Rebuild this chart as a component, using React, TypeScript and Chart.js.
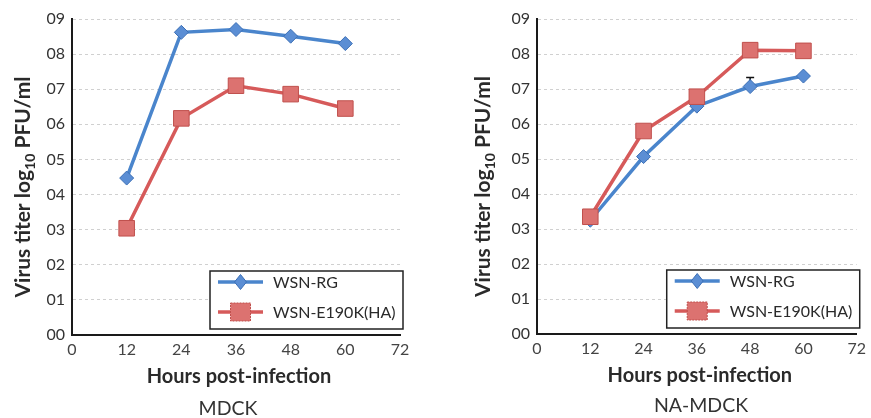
import { useEffect, useRef } from "react";
import { Chart, registerables } from "chart.js";

Chart.register(...registerables);

// ---------- data ----------
const hours = [12, 24, 36, 48, 60];
const seriesNames = ["WSN-RG", "WSN-E190K(HA)"];
const mdckRG = [4.47, 8.62, 8.7, 8.51, 8.3];
const mdckE190K = [3.04, 6.17, 7.1, 6.86, 6.45];
const naRG = [3.25, 5.07, 6.51, 7.07, 7.37];
const naE190K = [3.35, 5.8, 6.78, 8.11, 8.09];
const naRGErrUpper: (number | null)[] = [null, null, null, 7.33, null];
const mdckRGErrUpper: (number | null)[] = [null, null, null, null, null];
const panelTitles = ["MDCK", "NA-MDCK"];
const xTitle = "Hours post-infection";
const yTitleMain = "Virus titer log";
const yTitleSub = "10";
const yTitleEnd = " PFU/ml";
const xMin = 0;
const xMax = 72;
const xStep = 12;
const yMin = 0;
const yMax = 9;

// ---------- styles ----------
const FONT = "Lato, 'Noto Sans', sans-serif";
const BLUE_LINE = "#4a85cc";
const BLUE_FILL = "#5b8ed4";
const BLUE_EDGE = "#3b6fb6";
const RED_LINE = "#d65a5a";
const RED_FILL = "#dc7270";
const RED_EDGE = "#c0504d";

type PanelCfg = {
  title: string;
  rg: number[];
  e190k: number[];
  errUpper: (number | null)[];
  left: number;
  width: number;
  yAxisWidth: number;
  padRight: number;
  padTop: number;
  xAxisHeight: number;
  yTitleDx: number;
  titleX: number;
  titleY: number;
};

const panels: PanelCfg[] = [
  {
    title: panelTitles[0],
    rg: mdckRG,
    e190k: mdckE190K,
    errUpper: mdckRGErrUpper,
    left: 0,
    width: 436,
    yAxisWidth: 72,
    padRight: 36,
    padTop: 19,
    xAxisHeight: 83,
    yTitleDx: -42,
    titleX: 228,
    titleY: 415,
  },
  {
    title: panelTitles[1],
    rg: naRG,
    e190k: naE190K,
    errUpper: naRGErrUpper,
    left: 436,
    width: 435,
    yAxisWidth: 101,
    padRight: 7,
    padTop: 19,
    xAxisHeight: 84,
    yTitleDx: -47,
    titleX: 265,
    titleY: 412,
  },
];

function drawDiamond(ctx: CanvasRenderingContext2D, x: number, y: number, rx: number, ry: number) {
  ctx.beginPath();
  ctx.moveTo(x - rx, y);
  ctx.lineTo(x, y - ry);
  ctx.lineTo(x + rx, y);
  ctx.lineTo(x, y + ry);
  ctx.closePath();
  ctx.fillStyle = BLUE_FILL;
  ctx.fill();
  ctx.strokeStyle = BLUE_EDGE;
  ctx.lineWidth = 1;
  ctx.stroke();
}

function drawSquare(ctx: CanvasRenderingContext2D, x: number, y: number, w: number, h: number) {
  ctx.fillStyle = RED_FILL;
  ctx.fillRect(x - w / 2, y - h / 2, w, h);
  ctx.strokeStyle = RED_EDGE;
  ctx.lineWidth = 1;
  ctx.setLineDash([2, 1]);
  ctx.strokeRect(x - w / 2, y - h / 2, w, h);
  ctx.setLineDash([]);
}

function makeOverlay(p: PanelCfg) {
  return {
    id: "overlay",
    beforeDatasetsDraw(chart: any) {
      const ctx = chart.ctx as CanvasRenderingContext2D;
      const xs = chart.scales.x;
      const ys = chart.scales.y;
      ctx.save();
      ctx.strokeStyle = "#111";
      ctx.lineWidth = 1.5;
      p.errUpper.forEach((u, i) => {
        if (u == null) return;
        const px = xs.getPixelForValue(hours[i]);
        const y0 = ys.getPixelForValue(p.rg[i]);
        const y1 = ys.getPixelForValue(u);
        ctx.beginPath();
        ctx.moveTo(px, y0);
        ctx.lineTo(px, y1);
        ctx.moveTo(px - 4, y1);
        ctx.lineTo(px + 4, y1);
        ctx.stroke();
      });
      ctx.restore();
    },
    afterDraw(chart: any) {
      const ctx = chart.ctx as CanvasRenderingContext2D;
      const a = chart.chartArea;
      ctx.save();
      // y-axis title with subscript
      ctx.translate(a.left + p.yTitleDx, (a.top + a.bottom) / 2 + 10);
      ctx.rotate(-Math.PI / 2);
      ctx.fillStyle = "#2a2a2a";
      ctx.textBaseline = "alphabetic";
      ctx.textAlign = "left";
      const big = `bold 21px ${FONT}`;
      const small = `bold 14px ${FONT}`;
      ctx.font = big;
      const w1 = ctx.measureText(yTitleMain).width;
      const w3 = ctx.measureText(yTitleEnd).width;
      ctx.font = small;
      const w2 = ctx.measureText(yTitleSub).width;
      const x0 = -(w1 + w2 + w3) / 2;
      ctx.font = big;
      ctx.fillText(yTitleMain, x0, 0);
      ctx.font = small;
      ctx.fillText(yTitleSub, x0 + w1, 5);
      ctx.font = big;
      ctx.fillText(yTitleEnd, x0 + w1 + w2, 0);
      ctx.restore();

      ctx.save();
      // x-axis title
      ctx.fillStyle = "#2a2a2a";
      ctx.textAlign = "center";
      ctx.textBaseline = "alphabetic";
      ctx.font = `bold 20px ${FONT}`;
      ctx.fillText(xTitle, (a.left + a.right) / 2 + 3, a.bottom + 48);
      // panel title
      ctx.font = `19.5px ${FONT}`;
      ctx.fillStyle = "#333";
      ctx.fillText(p.title, p.titleX, p.titleY);

      // legend
      const bw = 193;
      const bh = 58;
      const bx = a.right + 3 - bw;
      const by = a.bottom - 6 - bh;
      ctx.fillStyle = "#fff";
      ctx.fillRect(bx, by, bw, bh);
      ctx.strokeStyle = "#222";
      ctx.lineWidth = 1.5;
      ctx.strokeRect(bx, by, bw, bh);
      seriesNames.forEach((name, i) => {
        const cy = by + 11 + i * 30;
        const lx0 = bx + 8;
        const lx1 = bx + 53;
        ctx.strokeStyle = i === 0 ? BLUE_LINE : RED_LINE;
        ctx.lineWidth = 3.5;
        ctx.beginPath();
        ctx.moveTo(lx0, cy);
        ctx.lineTo(lx1, cy);
        ctx.stroke();
        const mx = (lx0 + lx1) / 2;
        if (i === 0) drawDiamond(ctx, mx, cy, 6, 7.5);
        else drawSquare(ctx, mx, cy, 20, 18);
        ctx.fillStyle = "#2a2a2a";
        ctx.font = `16px ${FONT}`;
        ctx.textAlign = "left";
        ctx.textBaseline = "middle";
        ctx.fillText(name, bx + 63, cy + 1);
      });
      ctx.restore();
    },
  };
}

function Panel({ p }: { p: PanelCfg }) {
  const ref = useRef<HTMLCanvasElement | null>(null);
  useEffect(() => {
    if (!ref.current) return;
    const chart = new Chart(ref.current, {
      type: "line",
      data: {
        datasets: [
          {
            label: seriesNames[0],
            data: hours.map((h, i) => ({ x: h, y: p.rg[i] })),
            borderColor: BLUE_LINE,
            backgroundColor: BLUE_FILL,
            pointBackgroundColor: BLUE_FILL,
            pointBorderColor: BLUE_EDGE,
            pointBorderWidth: 1,
            borderWidth: 3.5,
            pointStyle: "rectRot",
            pointRadius: 7,
            order: 1,
          },
          {
            label: seriesNames[1],
            data: hours.map((h, i) => ({ x: h, y: p.e190k[i] })),
            borderColor: RED_LINE,
            backgroundColor: RED_FILL,
            pointBackgroundColor: RED_FILL,
            pointBorderColor: RED_EDGE,
            pointBorderWidth: 1,
            borderWidth: 3.5,
            pointStyle: "rect",
            pointRadius: 11,
            order: 0,
          },
        ],
      },
      options: {
        responsive: false,
        animation: false,
        devicePixelRatio: 1,
        layout: { padding: { left: 0, right: p.padRight, top: p.padTop, bottom: 0 } },
        plugins: {
          legend: { display: false },
          tooltip: { enabled: false },
          title: { display: false },
        },
        scales: {
          x: {
            type: "linear",
            min: xMin,
            max: xMax,
            afterFit: (s: any) => {
              s.height = p.xAxisHeight;
            },
            afterBuildTicks: (s: any) => {
              const t = [];
              for (let v = xMin; v <= xMax; v += xStep) t.push({ value: v });
              s.ticks = t;
            },
            ticks: {
              stepSize: xStep,
              padding: 5,
              color: "#444",
              font: { family: FONT, size: 16 },
            },
            grid: { display: false, drawTicks: false },
            border: { display: true, color: "#1a1a1a", width: 2 },
          },
          y: {
            type: "linear",
            min: yMin,
            max: yMax,
            afterFit: (s: any) => {
              s.width = p.yAxisWidth;
            },
            ticks: {
              stepSize: 1,
              padding: 7,
              color: "#333",
              font: { family: FONT, size: 16 },
              callback: (v: any) => "0" + v,
            },
            grid: {
              display: true,
              drawTicks: false,
              color: "rgba(150,150,150,0.45)",
              lineWidth: 1,
            },
            border: { display: true, color: "#1a1a1a", width: 2, dash: [3, 3] },
          },
        },
      },
      plugins: [makeOverlay(p)],
    } as any);
    return () => chart.destroy();
  }, [p]);
  return (
    <canvas
      ref={ref}
      width={p.width}
      height={418}
      style={{ position: "absolute", left: p.left, top: 0, width: p.width, height: 418 }}
    />
  );
}

export default function App() {
  return (
    <div
      style={{
        position: "fixed",
        left: 0,
        top: 0,
        width: 871,
        height: 418,
        background: "#fff",
        overflow: "hidden",
      }}
    >
      {panels.map((p) => (
        <Panel key={p.title} p={p} />
      ))}
    </div>
  );
}
